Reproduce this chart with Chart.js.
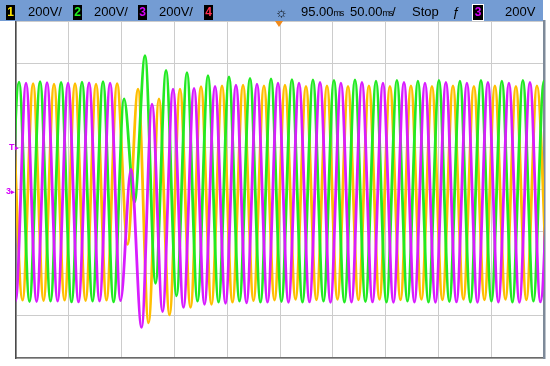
<!DOCTYPE html>
<html>
<head>
<meta charset="utf-8">
<script src="https://cdn.jsdelivr.net/npm/chart.js@4/dist/chart.umd.min.js"></script>
<style>
  body { margin: 0; background: #fff; }
  #wrap { position: relative; width: 550px; height: 366px; overflow: hidden;
          font-family: "Liberation Sans", Arial, sans-serif; }
  #scope { position: absolute; left: 0; top: 0; }
  #bar { position: absolute; left: 0; top: 0; width: 543px; height: 21px; background: #749cd3; }
  .t { position: absolute; top: 4px; font-size: 13px; line-height: 16px; color: #000; white-space: nowrap; }
  .ch { position: absolute; top: 5px; width: 9px; height: 15px; background: #000; font-size: 12px;
        line-height: 15px; text-align: center; font-weight: bold; }
  .u { font-size: 9px; letter-spacing: -1.3px; }
  .mk { position: absolute; color: #d500f9; font-size: 9px; line-height: 10px; font-weight: bold; }
  #trig { position: absolute; left: 275px; top: 21px; width: 0; height: 0;
          border-left: 4px solid transparent; border-right: 4px solid transparent; border-top: 6px solid #f08a1c; }
</style>
</head>
<body>
<div id="wrap">
  <canvas id="scope" width="550" height="366"></canvas>
  <div id="bar"></div>
  <div class="ch" style="left:6px;color:#ffe600">1</div>
  <div class="t" style="left:28px">200V/</div>
  <div class="ch" style="left:73px;color:#22ee22">2</div>
  <div class="t" style="left:94px">200V/</div>
  <div class="ch" style="left:138px;color:#d500f9">3</div>
  <div class="t" style="left:159px">200V/</div>
  <div class="ch" style="left:204px;color:#ff3050">4</div>
  <div class="t" style="left:275px;font-size:14px">☼</div>
  <div class="t" style="left:301px">95.00<span class="u">ms</span></div>
  <div class="t" style="left:350px">50.00<span class="u">ms</span>/</div>
  <div class="t" style="left:412px">Stop</div>
  <div class="t" style="left:452px;font-style:italic">ƒ</div>
  <div class="ch" style="left:472px;width:10px;border:1px solid #fff;top:4px;color:#d500f9">3</div>
  <div class="t" style="left:505px">200V</div>
  <div id="trig"></div>
  <div class="mk" style="left:9px;top:142px">T<span style="font-size:7px">▸</span></div>
  <div class="mk" style="left:6px;top:186px">3<span style="font-size:7px">▸</span></div>
</div>
<script>
// extrema: time in ms from left edge, level in volts
const greenMs = [-7.0, 2.9, 12.8, 22.8, 32.7, 42.7, 52.6, 62.5, 72.5, 82.4, 92.4, 102.3, 112.2, 122.2, 132.1, 142.1, 152.0, 161.9, 171.9, 181.8, 191.8, 201.7, 211.6, 221.6, 231.5, 241.5, 251.4, 261.3, 271.3, 281.2, 291.2, 301.1, 311.0, 321.0, 330.9, 340.9, 350.8, 360.7, 370.7, 380.6, 390.6, 400.5, 410.4, 420.4, 430.3, 440.3, 450.2, 460.1, 470.1, 480.0, 490.0, 499.9, 509.8];
const greenV = [-530, 510, -532, 512, -530, 508, -534, 510, -530, 512, -534, 430, -60, 635, -445, 565, -505, 555, -530, 540, -535, 535, -530, 528, -535, 525, -532, 522, -535, 520, -530, 518, -535, 520, -532, 515, -535, 518, -530, 515, -535, 518, -532, 515, -535, 518, -530, 515, -535, 518, -530, 515, -532];

const magentaMs = [-10.4, -0.4, 9.5, 19.5, 29.4, 39.4, 49.3, 59.2, 69.2, 79.1, 89.1, 99.0, 108.9, 118.9, 128.8, 138.8, 148.7, 158.6, 168.6, 178.5, 188.5, 198.4, 208.3, 218.3, 228.2, 238.2, 248.1, 258.0, 268.0, 277.9, 287.9, 297.8, 307.7, 317.7, 327.6, 337.6, 347.5, 357.4, 367.4, 377.3, 387.3, 397.2, 407.1, 417.1, 427.0, 437.0, 446.9, 456.8, 466.8, 476.7, 486.7, 496.6, 506.5];
const magentaV = [505, -530, 505, -532, 507, -530, 505, -534, 506, -530, 505, -528, 95, -655, 405, -580, 476, -560, 480, -545, 490, -540, 495, -538, 500, -535, 505, -536, 505, -534, 508, -536, 505, -535, 508, -534, 505, -536, 508, -535, 505, -536, 508, -534, 505, -536, 508, -535, 505, -536, 508, -534, 505];

const yellowMs = [-3.7, 6.2, 16.2, 26.1, 36.0, 46.0, 55.9, 65.9, 75.8, 85.7, 95.7, 105.6, 115.6, 125.5, 135.4, 145.4, 155.3, 165.3, 175.2, 185.1, 195.1, 205.0, 215.0, 224.9, 234.8, 244.8, 254.7, 264.7, 274.6, 284.5, 294.5, 304.4, 314.4, 324.3, 334.2, 344.2, 354.1, 364.1, 374.0, 383.9, 393.9, 403.8, 413.8, 423.7, 433.6, 443.6, 453.5, 463.5, 473.4, 483.3, 493.3, 503.2];
const yellowV = [500, -525, 502, -527, 500, -525, 502, -527, 500, -525, 502, -260, 476, -633, 430, -595, 476, -560, 488, -545, 492, -535, 495, -528, 492, -525, 495, -522, 490, -524, 492, -522, 490, -524, 492, -522, 490, -524, 492, -522, 490, -524, 492, -522, 490, -524, 492, -522, 490, -524, 492, -522];

// 10 divisions of 50 ms, 8 divisions of 200 V
const timeSpan = [0, 500];
const voltSpan = [-800, 800];

function points(ts, vs) {
    return ts.map((t, i) => ({ x: t, y: vs[i] }));
}

function trace(label, ts, vs, color, order) {
    return {
        label: label,
        data: points(ts, vs),
        borderColor: color,
        borderWidth: 2.8,
        pointRadius: 0,
        cubicInterpolationMode: 'monotone',
        order: order,
        clip: 0
    };
}

const gridColor = '#cccccc';

new Chart(document.getElementById('scope').getContext('2d'), {
    type: 'line',
    data: {
        datasets: [
            trace('3', magentaMs, magentaV, '#d81cff', 1),
            trace('2', greenMs, greenV, '#22ea22', 2),
            trace('1', yellowMs, yellowV, '#ffbf00', 3)
        ]
    },
    options: {
        responsive: false,
        animation: false,
        layout: { padding: { left: 16, top: 21, right: 6, bottom: 8 } },
        plugins: { legend: { display: false }, tooltip: { enabled: false } },
        scales: {
            x: {
                type: 'linear',
                min: timeSpan[0],
                max: timeSpan[1],
                ticks: { display: false, stepSize: 50 },
                grid: { color: gridColor, drawTicks: false },
                border: { color: '#6a6a6a', width: 1.5 }
            },
            y: {
                min: voltSpan[0],
                max: voltSpan[1],
                ticks: { display: false, stepSize: 200 },
                grid: { color: gridColor, drawTicks: false },
                border: { color: '#4a4a4a', width: 1.5 }
            },
            yR: {
                position: 'right',
                min: voltSpan[0],
                max: voltSpan[1],
                ticks: { display: false },
                grid: { drawOnChartArea: false, drawTicks: false },
                border: { color: '#7e8a99', width: 2.5 }
            }
        }
    }
});
</script>
</body>
</html>
